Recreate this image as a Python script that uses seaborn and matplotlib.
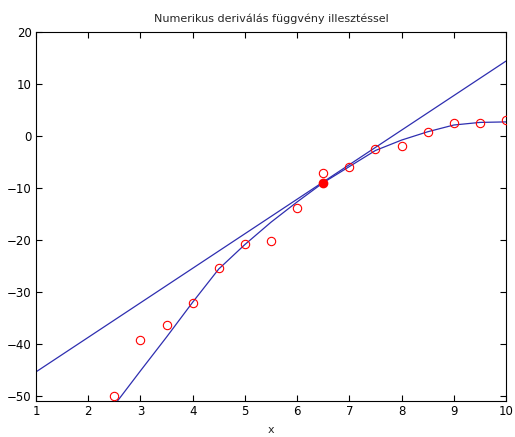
import numpy as np
import pandas as pd
import matplotlib
matplotlib.use("Agg")
import matplotlib.pyplot as plt
import seaborn as sns

# mért pontok
x_pontok = [2.5, 3.0, 3.5, 4.0, 4.5, 5.0, 5.5, 6.0, 6.5, 7.0, 7.5, 8.0, 8.5, 9.0, 9.5, 10.0]
y_pontok = [-50.1, -39.2, -36.3, -32.1, -25.4, -20.8, -20.2, -13.9, -7.1, -6.0, -2.6, -1.9, 0.8, 2.4, 2.4, 3.1]

# illesztett függvény értékei ugyanazokban a pontokban
y_illesztett = [-51.8, -45.2, -38.7, -32.0, -25.6, -20.9, -16.6, -12.7, -9.0, -5.9, -2.8, -0.8, 0.8, 2.1, 2.6, 2.7]

# érintési pont és az érintő egyenes végpontjai
x0, y0 = [6.5], [-9.0]
erinto_x = [1.0, 10.0]
erinto_y = [-45.4, 14.4]

x_ticks = list(range(1, 11))
y_ticks = [-50, -40, -30, -20, -10, 0, 10, 20]

df = pd.DataFrame({"x": x_pontok, "y": y_pontok, "fit": y_illesztett})
df_erinto = pd.DataFrame({"x": erinto_x, "y": erinto_y})

sns.set_style("ticks")
plt.rcParams["font.family"] = ["DejaVu Sans"]

fig = plt.figure(figsize=(5.15, 4.37), dpi=100)
ax = fig.add_axes([0.0699, 0.0824, 0.9126, 0.8444])

kek = "#2e2eb0"
sns.lineplot(data=df, x="x", y="fit", color=kek, lw=0.9, ax=ax)
sns.lineplot(data=df_erinto, x="x", y="y", color=kek, lw=0.9, ax=ax)
ax.plot(df["x"], df["y"], "o", mfc="none", mec="red", mew=0.8, ms=6, zorder=3)
ax.plot(x0, y0, "o", color="red", ms=6, zorder=4)

ax.set_xlim(1, 10)
ax.set_ylim(-51, 20)
ax.set_xticks(x_ticks)
ax.set_yticks(y_ticks)
ax.tick_params(direction="in", length=4, width=0.8, top=True, right=True,
               labelsize=8.5, colors="black", pad=3)
for s in ax.spines.values():
    s.set_visible(True)
    s.set_linewidth(0.8)
    s.set_color("black")

ax.set_xlabel("x", fontsize=8, labelpad=5)
ax.set_ylabel("")
ax.set_title("Numerikus deriválás függvény illesztéssel", fontsize=8, pad=7)

fig.savefig("out.png", dpi=100)
